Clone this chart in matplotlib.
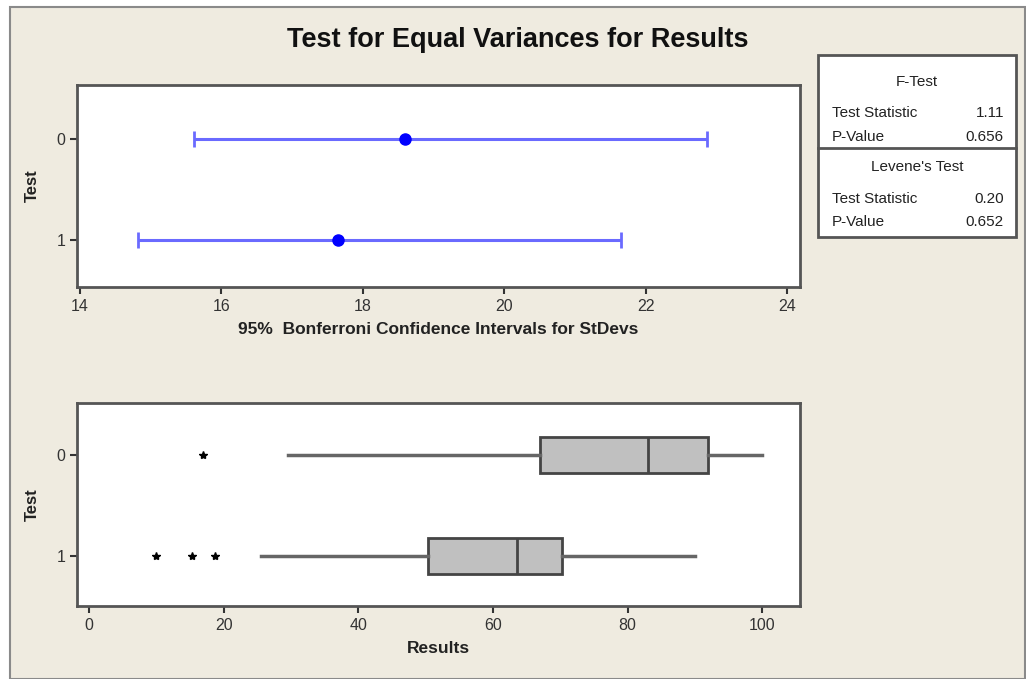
import matplotlib
matplotlib.use("Agg")
import matplotlib.pyplot as plt
from matplotlib.patches import Rectangle
from matplotlib.lines import Line2D

plt.rcParams['font.family'] = ['Liberation Sans', 'DejaVu Sans']

# ---- data ----
groups = ["0", "1"]
ci_lower = [15.62, 14.82]
ci_center = [18.60, 17.65]
ci_upper = [22.87, 21.65]

whisker_low = [29.5, 25.5]
q1 = [67.0, 50.3]
median = [83.0, 63.5]
q3 = [92.0, 70.3]
whisker_high = [100.0, 90.0]
outliers = [[17.0], [10.0, 15.3, 18.7]]

ftest_stat = "1.11"
ftest_p = "0.656"
levene_stat = "0.20"
levene_p = "0.652"

ci_ticks = [14, 16, 18, 20, 22, 24]
res_ticks = [0, 20, 40, 60, 80, 100]

W, H = 1026, 679
fig = plt.figure(figsize=(W / 100, H / 100), dpi=100)
fig.patch.set_facecolor("white")

def fx(px):
    return px / W

def fy(py):
    return 1 - py / H

bg = Rectangle((fx(10), 0), 1 - fx(10) - fx(1), fy(7), transform=fig.transFigure,
               facecolor="#EFEBE0", edgecolor="#8a8a8a", linewidth=1.5, zorder=-10)
fig.patches.append(bg)

fig.text(fx(518), fy(40), "Test for Equal Variances for Results", ha="center", va="center",
         fontsize=19.5, fontweight="bold", color="#111111")

frame_col = "#555555"

def style_ax(ax):
    for s in ax.spines.values():
        s.set_color(frame_col)
        s.set_linewidth(2)
    ax.tick_params(axis="both", colors="#333333", labelsize=11.5, length=5, width=1.5,
                   direction="out")
    ax.set_facecolor("white")

# ---- top axes: confidence intervals ----
ax1 = fig.add_axes([fx(77), fy(287), fx(800 - 77), (287 - 85) / H])
style_ax(ax1)
ypos = list(range(len(groups)))
for i in ypos:
    xerr = [[ci_center[i] - ci_lower[i]], [ci_upper[i] - ci_center[i]]]
    ax1.errorbar([ci_center[i]], [i], xerr=xerr, fmt="none", ecolor="#6a6aff",
                 elinewidth=2.2, capsize=6, capthick=2)
    ax1.plot([ci_center[i]], [i], "o", color="#0000ff", markersize=8)
ax1.set_xlim(13.96, 24.18)
ax1.set_ylim(1.465, -0.535)
ax1.set_yticks(ypos)
ax1.set_yticklabels(groups)
ax1.set_xticks(ci_ticks)
ax1.set_xlabel("95%  Bonferroni Confidence Intervals for StDevs", fontsize=12.5,
               fontweight="bold", color="#222222", labelpad=6)
ax1.set_ylabel("Test", fontsize=12, fontweight="bold", color="#222222", labelpad=12)

# ---- bottom axes: boxplots ----
ax2 = fig.add_axes([fx(77), fy(606), fx(800 - 77), (606 - 403) / H])
style_ax(ax2)
stats = []
for i in ypos:
    stats.append(dict(whislo=whisker_low[i], q1=q1[i], med=median[i], q3=q3[i],
                      whishi=whisker_high[i], fliers=outliers[i]))
ax2.bxp(stats, positions=ypos, vert=False, widths=0.36, patch_artist=True,
        showcaps=False,
        boxprops=dict(facecolor="#c0c0c0", edgecolor="#444444", linewidth=2),
        medianprops=dict(color="#444444", linewidth=2),
        whiskerprops=dict(color="#666666", linewidth=2.5),
        flierprops=dict(marker="*", markersize=6, markerfacecolor="black",
                        markeredgecolor="black"))
ax2.set_xlim(-1.78, 105.6)
ax2.set_ylim(1.495, -0.515)
ax2.set_yticks(ypos)
ax2.set_yticklabels(groups)
ax2.set_xticks(res_ticks)
ax2.set_xlabel("Results", fontsize=12.5, fontweight="bold", color="#222222", labelpad=6)
ax2.set_ylabel("Test", fontsize=12, fontweight="bold", color="#222222", labelpad=12)

# ---- stats box ----
bx0, bx1, by0, by1, bymid = 818, 1016, 55, 237, 148
fig.patches.append(Rectangle((fx(bx0), fy(by1)), fx(bx1 - bx0), (by1 - by0) / H,
                             transform=fig.transFigure, facecolor="white",
                             edgecolor=frame_col, linewidth=2, zorder=5))
fig.lines.append(Line2D([fx(bx0), fx(bx1)], [fy(bymid), fy(bymid)], transform=fig.transFigure,
                        color=frame_col, linewidth=2, zorder=6))
tkw = dict(fontsize=11, color="#222222", va="center", zorder=7)
fig.text(fx(917), fy(82), "F-Test", ha="center", **tkw)
fig.text(fx(832), fy(113), "Test Statistic", ha="left", **tkw)
fig.text(fx(1004), fy(113), ftest_stat, ha="right", **tkw)
fig.text(fx(832), fy(137), "P-Value", ha="left", **tkw)
fig.text(fx(1004), fy(137), ftest_p, ha="right", **tkw)
fig.text(fx(917), fy(167), "Levene's Test", ha="center", **tkw)
fig.text(fx(832), fy(199), "Test Statistic", ha="left", **tkw)
fig.text(fx(1004), fy(199), levene_stat, ha="right", **tkw)
fig.text(fx(832), fy(222), "P-Value", ha="left", **tkw)
fig.text(fx(1004), fy(222), levene_p, ha="right", **tkw)

fig.savefig("out.png", dpi=100, facecolor=fig.get_facecolor())
